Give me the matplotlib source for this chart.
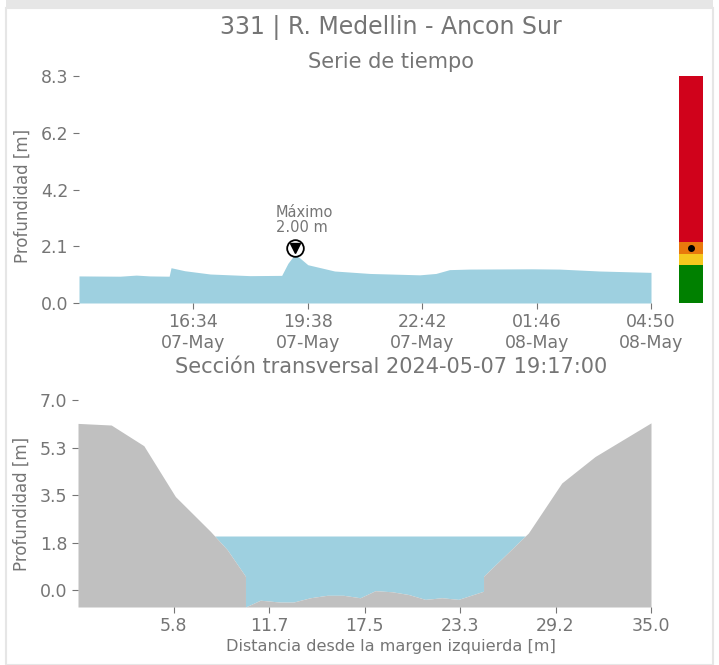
import matplotlib
matplotlib.use("Agg")
import matplotlib.pyplot as plt
import matplotlib.dates as mdates
from matplotlib.patches import Rectangle
import numpy as np
import pandas as pd

# ---------------- data ----------------
station_title = "331 | R. Medellin - Ancon Sur"
ts_title = "Serie de tiempo"
xs_title = "Sección transversal 2024-05-07 19:17:00"

ts_times = ["2024-05-07 13:30", "2024-05-07 14:36", "2024-05-07 15:02", "2024-05-07 15:24",
            "2024-05-07 15:55", "2024-05-07 15:58", "2024-05-07 16:20", "2024-05-07 17:01",
            "2024-05-07 18:05", "2024-05-07 18:56", "2024-05-07 19:06", "2024-05-07 19:17",
            "2024-05-07 19:25", "2024-05-07 19:38", "2024-05-07 20:21", "2024-05-07 21:18",
            "2024-05-07 22:38", "2024-05-07 23:04", "2024-05-07 23:26", "2024-05-07 23:58",
            "2024-05-08 01:39", "2024-05-08 02:23", "2024-05-08 03:27", "2024-05-08 04:50"]
ts_depth = [0.99, 0.98, 1.02, 0.99, 0.98, 1.29, 1.18, 1.06, 1.00, 1.01, 1.45, 1.78,
            1.65, 1.40, 1.17, 1.08, 1.03, 1.08, 1.22, 1.24, 1.25, 1.24, 1.17, 1.12]

max_time = "2024-05-07 19:17"
max_depth = 2.00

ts_ymax = 8.3
alert_levels = [0.0, 1.39, 1.78, 2.24, 8.3]
alert_colors = ["#008000", "#f6c81e", "#e9790c", "#d0021b"]

xs_dist = [0.0, 2.03, 4.02, 5.95, 8.09, 9.11, 10.23, 10.23, 11.14, 12.36, 13.15, 14.19,
           15.21, 16.22, 17.24, 18.16, 19.18, 20.19, 21.21, 22.23, 23.24, 24.77, 24.77,
           27.51, 29.55, 31.58, 35.0]
xs_bed = [6.14, 6.08, 5.32, 3.45, 2.17, 1.50, 0.52, -0.61, -0.36, -0.43, -0.43, -0.27,
          -0.18, -0.18, -0.27, -0.01, -0.05, -0.15, -0.33, -0.27, -0.33, -0.03, 0.52,
          2.11, 3.95, 4.92, 6.16]
water_level = 2.0
xs_ytick_labels = ["0.0", "1.8", "3.5", "5.3", "7.0"]

# ---------------- style ----------------
TXT = "#757575"
BLUE = "#9ed0e0"
GROUND = "#c0c0c0"
W, H = 719, 665

plt.rcParams["font.family"] = ["DejaVu Sans"]
fig = plt.figure(figsize=(W / 100, H / 100), dpi=100, facecolor="white")

# card frame
fig.patches.append(Rectangle((6 / W, 0), 707 / W, 1 - 8 / H, transform=fig.transFigure,
                             facecolor="none", edgecolor="#e6e6e6", lw=1.5, zorder=0))
fig.patches.append(Rectangle((6 / W, 1 - 8 / H), 707 / W, 8 / H, transform=fig.transFigure,
                             facecolor="#e6e6e6", edgecolor="none", zorder=0))

def fx(px):
    return px / W

def fy(py):
    return 1 - py / H

ax1 = fig.add_axes([fx(79), fy(303), fx(651) - fx(79), fy(76) - fy(303)])
axc = fig.add_axes([fx(679), fy(303), fx(703) - fx(679), fy(76) - fy(303)])
ax2 = fig.add_axes([fx(78), fy(607), fx(651) - fx(78), fy(400) - fy(607)])

def style(ax):
    for s in ax.spines.values():
        s.set_visible(False)
    ax.tick_params(colors=TXT, labelcolor=TXT, labelsize=12.5, length=4, width=0.8)

# ---- time series ----
t = pd.to_datetime(ts_times)
tn = mdates.date2num(t)
ax1.fill_between(tn, 0, ts_depth, color=BLUE, lw=0)
ax1.set_xlim(tn[0], tn[-1])
ax1.set_ylim(0, ts_ymax)
style(ax1)
yt = np.linspace(0, ts_ymax, 5)
ax1.set_yticks(yt)
ax1.set_yticklabels([f"{v:.1f}" for v in yt])
xt = np.linspace(tn[0], tn[-1], 6)[1:]
ax1.set_xticks(xt)
ax1.set_xticklabels([mdates.num2date(v).strftime("%H:%M\n%d-%b") for v in xt])
ax1.set_ylabel("Profundidad [m]", color=TXT, fontsize=12)
ax1.yaxis.set_label_coords(-0.082, 0.47)

mt = mdates.date2num(pd.Timestamp(max_time))
ax1.plot([mt], [max_depth], marker="o", ms=12, mfc="white", mec="black", mew=1.3, zorder=5)
ax1.plot([mt], [max_depth], marker="v", ms=6.5, color="black", zorder=6)
ax1.annotate(f"Máximo\n{max_depth:.2f} m", (mt, max_depth), xytext=(-19, 13),
             textcoords="offset pixels", ha="left", va="bottom", color=TXT, fontsize=10.5,
             linespacing=1.0)

# ---- alert bar ----
for lo, hi, c in zip(alert_levels[:-1], alert_levels[1:], alert_colors):
    axc.bar(0, hi - lo, bottom=lo, width=1, color=c, lw=0)
axc.plot([0], [max_depth], "o", color="black", ms=4)
axc.set_xlim(-0.5, 0.5)
axc.set_ylim(0, ts_ymax)
axc.axis("off")

# ---- cross section ----
ymin = min(xs_bed)
ax2.fill_between(xs_dist, xs_bed, water_level, where=np.array(xs_bed) < water_level,
                 interpolate=True, color=BLUE, lw=0)
ax2.fill_between(xs_dist, ymin, xs_bed, color=GROUND, lw=0)
ax2.set_xlim(0, 35)
ax2.set_ylim(ymin, 7.0)
style(ax2)
ax2.set_yticks(np.linspace(0, 7, 5))
ax2.set_yticklabels(xs_ytick_labels)
xt2 = np.linspace(0, 35, 7)[1:]
ax2.set_xticks(xt2)
ax2.set_xticklabels([f"{v:.1f}" for v in xt2])
ax2.set_ylabel("Profundidad [m]", color=TXT, fontsize=12)
ax2.yaxis.set_label_coords(-0.082, 0.5)

# ---- titles ----
cx = fx(391)
fig.text(cx, fy(28), station_title, ha="center", va="center", color=TXT, fontsize=17)
fig.text(cx, fy(62), ts_title, ha="center", va="center", color=TXT, fontsize=15)
fig.text(cx, fy(367), xs_title, ha="center", va="center", color=TXT, fontsize=15)
fig.text(cx, fy(647), "Distancia desde la margen izquierda [m]", ha="center", va="center",
         color=TXT, fontsize=11.6)

fig.savefig("out.png", dpi=100, facecolor="white")
